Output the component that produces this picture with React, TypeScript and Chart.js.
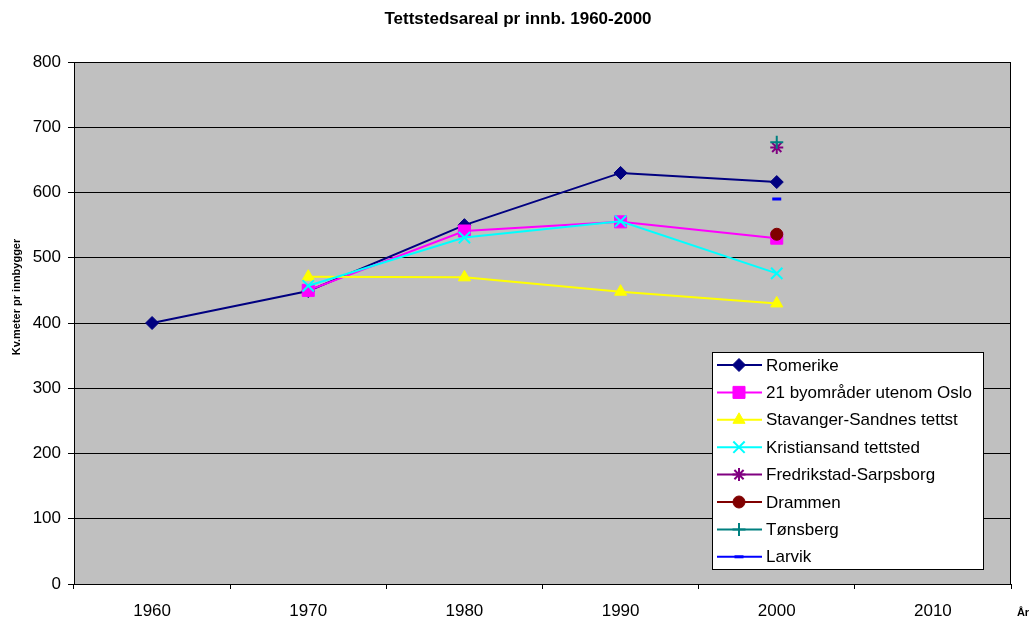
import React, { useEffect, useRef } from 'react';
import { Chart, registerables } from 'chart.js';
import { drawPoint } from 'chart.js/helpers';

Chart.register(...registerables);

const chartTitle = 'Tettstedsareal pr innb. 1960-2000';
const yTitle = 'Kv.meter pr innbygger';
const xTitle = 'År';
const years = ['1960', '1970', '1980', '1990', '2000', '2010'];
const yTicks = [0, 100, 200, 300, 400, 500, 600, 700, 800];

const romerike = [400, 449, 550, 630, 616, null];
const byomrader = [null, 450, 541, 555, 530, null];
const stavanger = [null, 471, 470, 448, 430, null];
const kristiansand = [null, 457, 531, 556, 476, null];
const fredrikstad = [null, null, null, null, 669, null];
const drammen = [null, null, null, null, 536, null];
const tonsberg = [null, null, null, null, 677, null];
const larvik = [null, null, null, null, 590, null];

const seriesNames = [
  'Romerike',
  '21 byområder utenom Oslo',
  'Stavanger-Sandnes tettst',
  'Kristiansand tettsted',
  'Fredrikstad-Sarpsborg',
  'Drammen',
  'Tønsberg',
  'Larvik',
];
const seriesData = [romerike, byomrader, stavanger, kristiansand, fredrikstad, drammen, tonsberg, larvik];
const seriesColors = ['#000080', '#FF00FF', '#FFFF00', '#00FFFF', '#800080', '#800000', '#008080', '#0000FF'];
const seriesStyles = ['rectRot', 'rect', 'triangle', 'crossRot', 'star', 'circle', 'cross', 'line'];
const seriesRadius = [6.5, 8.5, 7, 8, 6.5, 6, 6.5, 4.5];
const seriesPointBorder = [1, 1, 1, 2, 2, 1, 2, 3];

const FONT = 'Arial, "Liberation Sans", sans-serif';

const decor = {
  id: 'decor',
  beforeDraw(chart: any) {
    const { ctx, chartArea: a } = chart;
    ctx.save();
    ctx.fillStyle = '#C0C0C0';
    ctx.fillRect(a.left, a.top, a.right - a.left, a.bottom - a.top);
    ctx.restore();
  },
  beforeDatasetsDraw(chart: any) {
    const { ctx, chartArea: a } = chart;
    ctx.save();
    ctx.strokeStyle = '#000';
    ctx.lineWidth = 1;
    ctx.strokeRect(Math.round(a.left) + 0.5, Math.round(a.top) + 0.5, Math.round(a.right - a.left) - 1, Math.round(a.bottom - a.top));
    ctx.restore();
  },
  afterDraw(chart: any) {
    const { ctx, chartArea: a, width } = chart;
    ctx.save();
    ctx.fillStyle = '#000';
    // title
    ctx.font = `bold 17px ${FONT}`;
    ctx.textAlign = 'center';
    ctx.textBaseline = 'middle';
    ctx.fillText(chartTitle, width / 2 + 1, 19);
    // y title
    ctx.save();
    ctx.translate(17, 297);
    ctx.rotate(-Math.PI / 2);
    ctx.font = `bold 11px ${FONT}`;
    ctx.fillText(yTitle, 0, 0);
    ctx.restore();
    // x title
    ctx.font = `bold 11px ${FONT}`;
    ctx.fillText(xTitle, a.right + 12, 613);

    // legend
    const bx = a.right - 299;
    const by = a.bottom - 232;
    const bw = 271;
    const bh = 217;
    ctx.fillStyle = '#FFFFFF';
    ctx.fillRect(bx, by, bw, bh);
    ctx.strokeStyle = '#000';
    ctx.lineWidth = 1;
    ctx.strokeRect(bx + 0.5, by + 0.5, bw, bh);
    ctx.font = `17px ${FONT}`;
    ctx.textAlign = 'left';
    ctx.textBaseline = 'middle';
    seriesNames.forEach((name, i) => {
      const y = by + 13 + i * 27.4;
      const c = seriesColors[i];
      ctx.strokeStyle = c;
      ctx.lineWidth = 2;
      ctx.beginPath();
      ctx.moveTo(bx + 5, y);
      ctx.lineTo(bx + 50, y);
      ctx.stroke();
      ctx.fillStyle = c;
      ctx.strokeStyle = c;
      ctx.lineWidth = seriesPointBorder[i];
      drawPoint(ctx, { pointStyle: seriesStyles[i], radius: seriesRadius[i], rotation: 0, borderWidth: seriesPointBorder[i] } as any, bx + 27, y);
      ctx.fillStyle = '#000';
      ctx.fillText(name, bx + 54, y + 1);
    });
    ctx.restore();
  },
};

export default function App() {
  const ref = useRef<HTMLCanvasElement>(null);
  useEffect(() => {
    const datasets = seriesNames.map((name, i) => ({
      label: name,
      data: seriesData[i],
      borderColor: seriesColors[i],
      backgroundColor: seriesColors[i],
      pointBackgroundColor: seriesColors[i],
      pointBorderColor: seriesColors[i],
      pointStyle: seriesStyles[i],
      pointRadius: seriesRadius[i],
      pointBorderWidth: seriesPointBorder[i],
      borderWidth: 2,
      fill: false,
      tension: 0,
      spanGaps: false,
      order: seriesNames.length - i,
    }));
    const chart = new Chart(ref.current as HTMLCanvasElement, {
      type: 'line',
      data: { labels: years, datasets: datasets as any },
      plugins: [decor],
      options: {
        responsive: false,
        animation: false,
        devicePixelRatio: 1,
        layout: { padding: { top: 62, right: 23, left: 0, bottom: 0 } },
        plugins: {
          legend: { display: false },
          title: { display: false },
          tooltip: { enabled: false },
        },
        scales: {
          x: {
            type: 'category',
            offset: true,
            afterFit: (s: any) => { s.height = 37; },
            grid: { offset: true, drawOnChartArea: false, color: '#000', tickColor: '#000', tickLength: 5 },
            border: { display: true, color: '#000' },
            ticks: { color: '#000', font: { family: FONT, size: 17 }, padding: 12, maxRotation: 0, autoSkip: false },
          },
          y: {
            min: yTicks[0],
            max: yTicks[yTicks.length - 1],
            afterFit: (s: any) => { s.width = 74; },
            afterBuildTicks: (s: any) => { s.ticks = yTicks.map((v) => ({ value: v })); },
            grid: { color: '#000', tickColor: '#000', tickLength: 6 },
            border: { display: true, color: '#000' },
            ticks: { color: '#000', font: { family: FONT, size: 17 }, padding: 7 },
          },
        },
      } as any,
    });
    return () => chart.destroy();
  }, []);
  return (
    <div style={{ position: 'absolute', left: 0, top: 0, width: 1034, height: 621, background: '#fff' }}>
      <canvas ref={ref} width={1034} height={621} style={{ display: 'block', width: 1034, height: 621 }} />
    </div>
  );
}
